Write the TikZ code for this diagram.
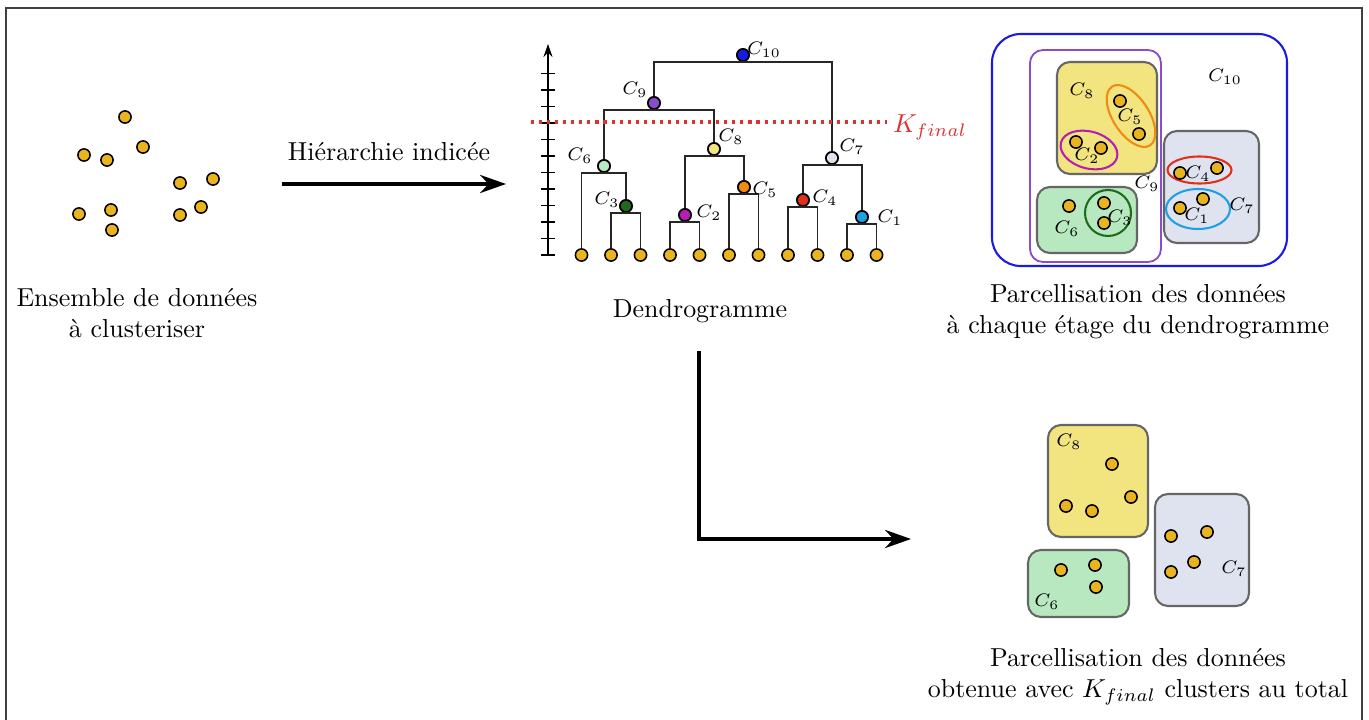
\documentclass[tikz,border=0pt]{standalone}
\definecolor{donnee}{HTML}{E9B41E}
\definecolor{ciel}{HTML}{1EA0E6}
\definecolor{prune}{HTML}{B41EB4}
\definecolor{sapin}{HTML}{1E6B1E}
\definecolor{brique}{HTML}{E0301A}
\definecolor{mandarine}{HTML}{F08A14}
\definecolor{menthe}{HTML}{B8E8C0}
\definecolor{ardoise}{HTML}{DFE3EF}
\definecolor{paille}{HTML}{F2E47E}
\definecolor{lilas}{HTML}{8A4CC8}
\definecolor{roi}{HTML}{1A1AE6}
\definecolor{kfinal}{HTML}{E03030}
\usepackage{tikz}
\usetikzlibrary{calc, positioning, arrows.meta}

\begin{document}
\begin{tikzpicture}[x=0.385pt, y=-0.385pt,
  dot/.style={circle, draw, line width=0.6pt, fill=donnee, inner sep=0pt, minimum size=4.7pt},
  dnode/.style={circle, draw, line width=0.7pt, inner sep=0pt, minimum size=4.7pt, anchor=south},
  dend/.style={draw=black!85, line width=0.45pt},
  lab/.style={font=\scriptsize, inner sep=0pt},
  clus/.style={draw=black!60, line width=0.8pt, rounded corners=5pt},
  big/.style={-{Stealth[length=10pt, width=7pt]}, line width=1.2pt},
  txt/.style={align=center}]

\path[use as bounding box, fill=white] (0,0) rectangle (1369,720);
\draw[black!75, line width=0.6pt] (6,8) rectangle (1362,760);

\foreach \p [count=\i] in {(125,117),(143,147),(84,155),(107,160),(180,183),(213,179),(79,214),(111,210),(112,230),(180,215),(201,207)}
  \node[dot] (s\i) at \p {};
\node[txt] (ens) at (137,313) {Ensemble de données\\à clusteriser};

\coordinate (h1) at (282,184);
\coordinate (h2) at (506,184);
\draw[big] (h1) -- (h2);
\node[txt] (hier) at (389,152) {Hiérarchie indicée};

\coordinate (ax0) at (548,255);
\coordinate (ax1) at (548,44);
\draw[-{Stealth[length=5pt, width=3.5pt]}, line width=0.5pt] (ax0) -- (ax1);
\foreach \t in {0,...,11}
  \draw[line width=0.5pt] (541,{255-16.5*\t}) -- (555,{255-16.5*\t});

\foreach \i in {1,...,11}
  \node[dot] (l\i) at ({552+29.5*\i},255) {};

\node[dnode, fill=ciel] (c1) at (862,224) {};
\node[dnode, fill=prune] (c2) at (685,222) {};
\node[dnode, fill=sapin] (c3) at (626,213) {};
\node[dnode, fill=brique] (c4) at (803,207) {};
\node[dnode, fill=mandarine] (c5) at (744,194) {};
\node[dnode, fill=menthe] (c6) at (604,173) {};
\node[dnode, fill=ardoise] (c7) at (832,165) {};
\node[dnode, fill=paille] (c8) at (714,156) {};
\node[dnode, fill=lilas] (c9) at (654,110) {};
\node[dnode, fill=roi] (c10) at (743,62) {};

\draw[dend] (l10.north) |- (c1.south) -| (l11.north);
\draw[dend] (l4.north) |- (c2.south) -| (l5.north);
\draw[dend] (l2.north) |- (c3.south) -| (l3.north);
\draw[dend] (l8.north) |- (c4.south) -| (l9.north);
\draw[dend] (l6.north) |- (c5.south) -| (l7.north);
\draw[dend] (l1.north) |- (c6.south) -| (c3.north);
\draw[dend] (c4.north) |- (c7.south) -| (c1.north);
\draw[dend] (c2.north) |- (c8.south) -| (c5.north);
\draw[dend] (c6.north) |- (c9.south) -| (c8.north);
\draw[dend] (c9.north) |- (c10.south) -| (c7.north);

\node[lab] (t1) at (890,218) {$C_1$};
\node[lab] (t2) at (709,213) {$C_2$};
\node[lab] (t3) at (607,200) {$C_3$};
\node[lab] (t4) at (825,198) {$C_4$};
\node[lab] (t5) at (765,190) {$C_5$};
\node[lab] (t6) at (580,156) {$C_6$};
\node[lab] (t7) at (852,147) {$C_7$};
\node[lab] (t8) at (731,137) {$C_8$};
\node[lab] (t9) at (635,90) {$C_9$};
\node[lab] (t10) at (764,50) {$C_{10}$};

\coordinate (k1) at (531,122);
\coordinate (k2) at (887,122);
\draw[kfinal, line width=1.2pt, dash pattern=on 1.2pt off 1.9pt] (k1) -- (k2);
\node[text=kfinal] (kf) at (930,127) {$K_{final}$};
\node[txt] (dendro) at (700,311) {Dendrogramme};

\draw[roi, line width=0.8pt, rounded corners=11pt] (992,34) rectangle (1287,266);
\draw[lilas, line width=0.7pt, rounded corners=5pt] (1030,50) rectangle (1161,262);
\draw[clus, fill=paille] (1057,62) rectangle (1157,174);
\draw[clus, fill=menthe] (1037,187) rectangle (1137,253);
\draw[clus, fill=ardoise] (1164,131) rectangle (1259,243);
\draw[mandarine, line width=0.8pt, rotate around={-57:(1131,116)}] (1131,116) ellipse [x radius=35, y radius=18];
\draw[prune, line width=0.8pt, rotate around={-15:(1089,150)}] (1089,150) ellipse [x radius=29, y radius=18.5];
\draw[sapin, line width=0.8pt] (1108,213) circle [radius=23];
\draw[brique, line width=0.8pt] (1199.5,170) ellipse [x radius=32, y radius=13.5];
\draw[ciel, line width=0.8pt] (1198,209) ellipse [x radius=32, y radius=20];
\foreach \p [count=\i] in {(1120,101),(1139,134),(1076,142),(1101,148),(1104,203),(1104,223),(1069,206),(1180,173),(1217,168),(1180,208),(1203,199)}
  \node[dot] (p\i) at \p {};
\node[lab] (u10) at (1225,77) {$C_{10}$};
\node[lab] (u9) at (1147,184) {$C_9$};
\node[lab] (u8) at (1082,91) {$C_8$};
\node[lab] (u7) at (1242,206) {$C_7$};
\node[lab] (u6) at (1067,229) {$C_6$};
\node[lab] (u5) at (1130,117) {$C_5$};
\node[lab] (u4) at (1198,174) {$C_4$};
\node[lab] (u3) at (1120,218) {$C_3$};
\node[lab] (u2) at (1087,156) {$C_2$};
\node[lab] (u1) at (1197,216) {$C_1$};
\node[txt] (parc) at (1138,312) {Parcellisation des données\\à chaque étage du dendrogramme};

\coordinate (v1) at (699,351);
\coordinate (v2) at (911,539);
\draw[big] (v1) |- (v2);

\draw[clus, fill=paille] (1048,425) rectangle (1148,537);
\draw[clus, fill=menthe] (1028,550) rectangle (1129,617);
\draw[clus, fill=ardoise] (1155,494) rectangle (1249,606);
\foreach \p [count=\i] in {(1112,464),(1131,497),(1066,506),(1092,511),(1061,570),(1095,565),(1096,587),(1171,536),(1207,532),(1194,562),(1171,572)}
  \node[dot] (q\i) at \p {};
\node[lab] (w8) at (1069,442) {$C_8$};
\node[lab] (w6) at (1047,602) {$C_6$};
\node[lab] (w7) at (1234,569) {$C_7$};
\node[txt] (fin) at (1138,677) {Parcellisation des données\\obtenue avec $K_{final}$ clusters au total};
\end{tikzpicture}
\end{document}
